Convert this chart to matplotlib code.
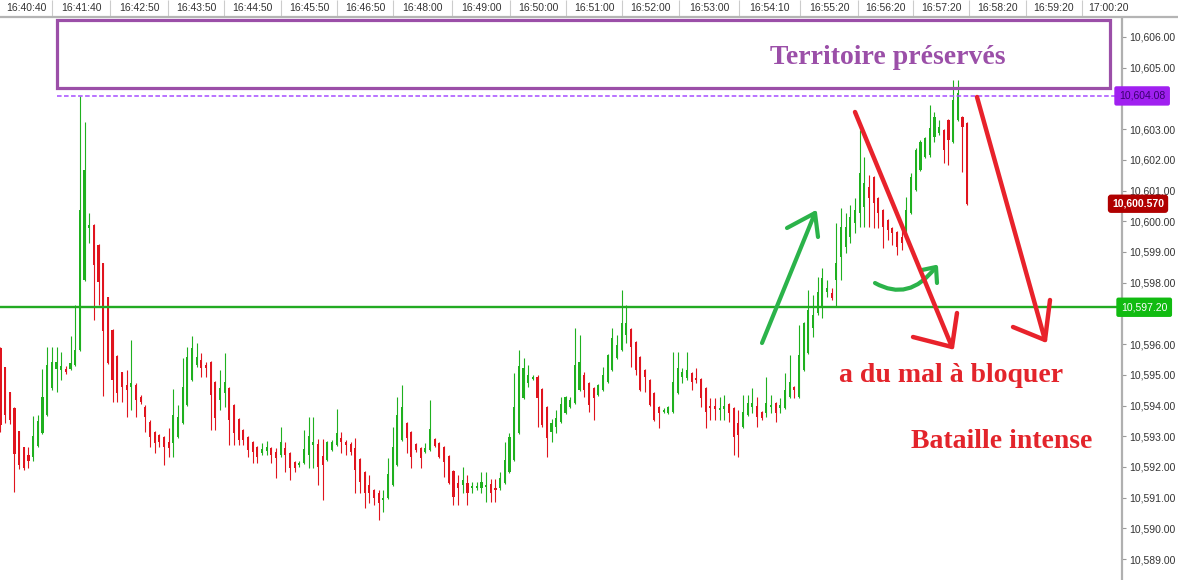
import matplotlib
matplotlib.use("Agg")
import matplotlib.pyplot as plt
from matplotlib.patches import Rectangle, PathPatch
from matplotlib.path import Path
from matplotlib.transforms import blended_transform_factory
import numpy as np

# --- candle data (price) ---
opens = [
    10595.87, 10595.25, 10594.44, 10593.92, 10593.17, 10592.65, 10592.39, 10592.32, 10592.68, 10593.10,
    10593.69, 10594.57, 10595.19, 10595.15, 10595.19, 10595.19, 10595.32, 10595.80, 10598.08, 10599.78,
    10599.88, 10599.23, 10598.64, 10597.53, 10596.46, 10595.61, 10595.09, 10594.67, 10594.60, 10594.67,
    10594.28, 10593.95, 10593.46, 10593.13, 10593.04, 10592.97, 10592.81, 10592.78, 10592.97, 10593.43,
    10594.01, 10594.83,
    10595.32, 10595.48, 10595.32, 10595.41, 10594.76, 10594.18, 10594.41, 10594.57, 10594.01, 10593.56,
    10593.20, 10592.97, 10592.81, 10592.65, 10592.45, 10592.52, 10592.61, 10592.48, 10592.39, 10592.61,
    10592.45, 10592.16, 10592.06, 10592.12, 10592.39, 10592.71, 10592.74, 10592.35, 10592.22, 10592.55,
    10592.71, 10592.94, 10592.81, 10592.74, 10592.61, 10592.25, 10591.83, 10591.41, 10591.24, 10591.15,
    10590.92, 10590.99, 10591.41,
    10592.06, 10592.87, 10593.43, 10593.13, 10592.74, 10592.61, 10592.48, 10592.55, 10592.91, 10592.78,
    10592.65, 10592.35, 10591.86, 10591.47, 10591.41, 10591.47, 10591.31, 10591.31, 10591.31, 10591.34,
    10591.44, 10591.31, 10591.31, 10591.47, 10591.83, 10592.22, 10593.10, 10594.24, 10594.73, 10594.86,
    10594.93, 10594.53, 10593.95, 10593.13, 10593.30, 10593.46, 10593.75, 10593.95, 10594.08, 10594.50,
    10594.99, 10594.73,
    10594.57, 10594.34, 10594.50, 10594.76, 10595.15, 10595.54, 10595.80, 10596.29, 10596.49, 10596.06,
    10595.58, 10595.15, 10594.83, 10594.41, 10593.95, 10593.79, 10593.75, 10593.79, 10594.41, 10594.93,
    10594.89, 10595.06, 10594.89, 10594.86, 10594.57, 10593.98, 10593.98, 10593.85, 10593.89, 10594.05,
    10593.92, 10593.43, 10593.30, 10593.69, 10593.95, 10593.98, 10593.79, 10593.75, 10593.95, 10594.08,
    10593.92,
    10593.92, 10594.28, 10594.60, 10594.28, 10595.15, 10595.71, 10596.52, 10597.01, 10597.20, 10597.69,
    10597.66, 10598.08,
    10598.83, 10599.16, 10599.49, 10599.94, 10600.27, 10600.46, 10601.11, 10601.44, 10600.76, 10600.36,
    10600.04, 10599.78, 10599.65, 10599.49, 10599.62, 10600.27, 10601.02, 10601.67, 10602.09, 10602.16,
    10602.74, 10602.87, 10602.97, 10603.30, 10602.58, 10603.30, 10603.39, 10603.20,
]
highs = [
    10595.90, 10595.25, 10594.44, 10593.95, 10593.17, 10592.65, 10592.65, 10593.66, 10593.69, 10595.19,
    10595.90, 10595.90, 10595.90, 10595.74, 10595.28, 10596.26, 10597.27, 10604.08, 10603.23, 10600.27,
    10599.90, 10599.25, 10598.65, 10597.55, 10596.48, 10595.63, 10595.10, 10595.15, 10596.13, 10594.73,
    10594.34, 10594.01, 10593.52, 10593.17, 10593.07, 10593.01, 10593.27, 10594.53, 10594.01, 10595.54,
    10595.90, 10596.26,
    10596.03, 10595.71, 10595.41, 10595.45, 10594.80, 10595.15, 10595.71, 10594.60, 10594.05, 10593.59,
    10593.23, 10593.01, 10592.84, 10592.68, 10592.78, 10592.84, 10592.65, 10592.61, 10593.30, 10592.81,
    10592.48, 10592.19, 10592.19, 10593.20, 10593.62, 10593.62, 10592.91, 10592.91, 10592.84, 10592.87,
    10593.88, 10593.13, 10592.87, 10592.81, 10592.94, 10592.29, 10591.86, 10591.73, 10591.28, 10591.24,
    10591.24, 10592.29, 10593.30,
    10594.28, 10594.67, 10593.46, 10593.17, 10592.78, 10592.65, 10592.78, 10594.18, 10592.94, 10592.81,
    10592.68, 10592.39, 10591.90, 10591.73, 10592.00, 10591.73, 10591.51, 10591.51, 10591.83, 10591.83,
    10591.60, 10591.60, 10591.83, 10592.81, 10593.10, 10595.06, 10595.80, 10595.54, 10595.32, 10594.99,
    10594.99, 10594.57, 10593.98, 10593.56, 10593.85, 10594.28, 10594.31, 10594.28, 10596.52, 10596.29,
    10595.09, 10594.76,
    10594.60, 10594.70, 10595.25, 10595.67, 10596.52, 10596.29, 10597.76, 10597.27, 10596.52, 10596.10,
    10595.61, 10595.19, 10594.86, 10594.44, 10593.98, 10593.92, 10593.98, 10595.74, 10595.74, 10595.22,
    10595.74, 10595.09, 10595.22, 10594.89, 10594.60, 10594.24, 10594.24, 10594.28, 10594.34, 10594.08,
    10593.95, 10593.85, 10594.34, 10594.34, 10594.57, 10594.28, 10593.82, 10594.93, 10594.34, 10594.11,
    10594.24,
    10595.06, 10595.64, 10594.63, 10596.62, 10596.72, 10597.76, 10597.59, 10598.18, 10598.48, 10598.08,
    10597.82, 10599.94,
    10600.43, 10600.27, 10600.53, 10600.76, 10602.97, 10602.09, 10601.50, 10601.47, 10600.79, 10600.40,
    10600.07, 10599.81, 10599.68, 10599.94, 10600.79, 10601.57, 10602.38, 10602.64, 10602.74, 10603.79,
    10603.56, 10603.30, 10603.00, 10603.33, 10604.60, 10604.60, 10603.42, 10603.23,
]
lows = [
    10593.13, 10593.42, 10593.39, 10591.18, 10591.93, 10591.90, 10591.96, 10592.19, 10592.65, 10593.07,
    10593.66, 10594.50, 10594.44, 10594.83, 10595.02, 10595.15, 10595.28, 10595.77, 10598.05, 10599.29,
    10596.78, 10597.27, 10594.31, 10595.35, 10594.11, 10594.11, 10594.11, 10593.62, 10593.85, 10593.62,
    10594.05, 10593.13, 10592.65, 10592.45, 10592.65, 10592.06, 10592.32, 10592.32, 10592.94, 10593.39,
    10593.98, 10594.80,
    10595.25, 10594.93, 10594.93, 10593.20, 10593.20, 10593.85, 10593.95, 10592.71, 10592.71, 10592.71,
    10592.71, 10592.32, 10592.12, 10592.12, 10592.39, 10592.39, 10592.12, 10591.63, 10592.32, 10591.83,
    10591.57, 10591.83, 10592.00, 10592.09, 10591.96, 10591.96, 10591.41, 10590.92, 10592.19, 10592.52,
    10592.68, 10592.45, 10592.39, 10592.39, 10591.15, 10591.15, 10590.66, 10590.82, 10590.76, 10590.27,
    10590.53, 10590.95, 10591.38,
    10592.03, 10592.84, 10592.45, 10591.96, 10592.48, 10591.96, 10592.45, 10592.52, 10592.65, 10592.29,
    10591.67, 10591.44, 10590.76, 10590.76, 10591.15, 10590.76, 10591.15, 10591.24, 10591.15, 10590.86,
    10590.86, 10590.86, 10591.24, 10591.44, 10591.80, 10592.19, 10593.07, 10594.21, 10594.60, 10594.83,
    10593.30, 10593.30, 10592.32, 10592.81, 10593.10, 10593.43, 10593.72, 10593.92, 10594.05, 10594.47,
    10594.28, 10593.79,
    10593.52, 10594.31, 10594.47, 10594.73, 10595.12, 10595.51, 10595.77, 10596.03, 10595.25, 10594.99,
    10594.47, 10594.44, 10593.98, 10593.49, 10593.27, 10593.75, 10593.72, 10593.75, 10594.37, 10594.73,
    10594.83, 10594.50, 10594.73, 10593.95, 10593.27, 10593.52, 10593.52, 10593.52, 10593.52, 10593.46,
    10592.39, 10592.32, 10593.27, 10593.66, 10593.75, 10593.30, 10593.52, 10593.62, 10593.75, 10593.46,
    10593.75,
    10593.89, 10594.24, 10594.24, 10594.24, 10595.12, 10595.67, 10596.23, 10596.94, 10596.85, 10597.53,
    10597.43, 10597.20,
    10598.08, 10598.96, 10599.29, 10599.62, 10599.81, 10599.81, 10599.81, 10599.78, 10599.78, 10599.13,
    10599.39, 10599.23, 10598.90, 10599.06, 10599.49, 10600.23, 10600.98, 10601.63, 10602.06, 10602.09,
    10602.58, 10602.81, 10601.89, 10601.83, 10602.55, 10603.27, 10601.60, 10600.53,
]
closes = [
    10593.36, 10593.69, 10593.52, 10592.42, 10592.06, 10591.96, 10592.19, 10593.01, 10593.49, 10594.28,
    10595.32, 10595.41, 10595.41, 10595.28, 10595.09, 10595.38, 10595.80, 10600.36, 10601.67, 10599.88,
    10598.57, 10598.02, 10596.42, 10595.38, 10594.83, 10594.41, 10594.60, 10594.50, 10594.73, 10594.18,
    10594.11, 10593.62, 10592.97, 10592.78, 10592.81, 10592.65, 10592.61, 10593.69, 10593.62, 10594.60,
    10595.58, 10595.87,
    10595.58, 10595.22, 10595.22, 10594.34, 10593.59, 10594.57, 10594.76, 10593.52, 10593.10, 10592.87,
    10592.87, 10592.55, 10592.48, 10592.32, 10592.58, 10592.65, 10592.39, 10592.29, 10592.81, 10592.39,
    10591.96, 10591.96, 10592.12, 10592.58, 10593.01, 10592.81, 10592.00, 10592.06, 10592.81, 10592.81,
    10593.10, 10592.81, 10592.71, 10592.48, 10591.90, 10591.51, 10591.15, 10591.15, 10590.99, 10590.82,
    10590.99, 10591.77, 10592.65,
    10593.69, 10593.95, 10592.94, 10592.32, 10592.55, 10592.29, 10592.61, 10593.23, 10592.68, 10592.32,
    10592.16, 10591.47, 10591.02, 10591.31, 10591.57, 10591.15, 10591.38, 10591.38, 10591.51, 10591.41,
    10591.15, 10591.24, 10591.64, 10592.22, 10592.97, 10593.95, 10595.28, 10595.22, 10594.99, 10594.93,
    10594.24, 10593.36, 10592.94, 10593.43, 10593.59, 10594.05, 10594.28, 10594.18, 10595.32, 10595.41,
    10594.50, 10594.01,
    10594.24, 10594.67, 10594.99, 10595.64, 10596.20, 10595.97, 10596.68, 10596.68, 10595.90, 10595.15,
    10594.50, 10594.93, 10594.01, 10593.52, 10593.75, 10593.85, 10593.95, 10594.76, 10595.22, 10595.09,
    10595.15, 10594.76, 10594.83, 10594.24, 10593.79, 10593.92, 10593.89, 10593.92, 10593.98, 10593.75,
    10592.97, 10593.04, 10593.79, 10594.08, 10594.08, 10593.62, 10593.59, 10594.08, 10594.01, 10593.75,
    10594.01,
    10594.50, 10594.76, 10594.50, 10595.64, 10596.68, 10597.11, 10596.94, 10597.69, 10598.15, 10597.82,
    10597.50, 10598.64,
    10599.81, 10599.81, 10600.14, 10600.36, 10601.57, 10601.24, 10600.76, 10600.59, 10600.27, 10599.81,
    10599.71, 10599.62, 10599.16, 10599.29, 10600.36, 10601.44, 10602.32, 10602.58, 10602.71, 10603.04,
    10603.39, 10603.07, 10602.32, 10602.64, 10603.95, 10604.18, 10603.07, 10600.57,
]

time_labels = ["16:40:40", "16:41:40", "16:42:50", "16:43:50", "16:44:50", "16:45:50", "16:46:50",
               "16:48:00", "16:49:00", "16:50:00", "16:51:00", "16:52:00", "16:53:00", "16:54:10",
               "16:55:20", "16:56:20", "16:57:20", "16:58:20", "16:59:20", "17:00:20"]
# 10,604 and 10,597 sit under the price tags, so they are not labelled
price_ticks = [10589, 10590, 10591, 10592, 10593, 10594, 10595, 10596,
               10598, 10599, 10600, 10601, 10602, 10603, 10605, 10606]

support_level = 10597.20
prev_high = 10604.08
last_price = 10600.570

GREEN = "#1fb01f"
RED = "#e0141e"

W, H = 1178, 580
AX_R = 1122          # right edge of the plot area (px)
AX_T = 17            # height of the time strip (px)
DX = 4.67            # px per candle

fig = plt.figure(figsize=(W / 100, H / 100), dpi=100)
plt.rcParams["font.family"] = ["Liberation Sans", "DejaVu Sans"]

# --- main candle axes ---
ax = fig.add_axes([0, 0, AX_R / W, (H - AX_T) / H])
o = np.array(opens)
hi = np.array(highs)
lo = np.array(lows)
c = np.array(closes)
x = np.arange(len(o))
cols = np.where(c >= o, GREEN, RED)

ax.vlines(x, lo, hi, colors=cols, lw=0.8, zorder=3)
ax.bar(x, np.maximum(np.abs(c - o), 0.06), bottom=np.minimum(o, c), width=0.45,
       color=cols, linewidth=0, zorder=3)

ax.set_xlim(-0.1, AX_R / DX - 0.1)
ax.set_ylim(10588.32, 10606.65)

ax.axhline(support_level, color="#22aa22", lw=1.7, zorder=4)
ax.axhline(prev_high, xmin=57 / AX_R, color="#a64dff", lw=1.1, ls=(0, (3, 1.6)), zorder=4)

ax.yaxis.tick_right()
ax.set_yticks(price_ticks)
ax.set_yticklabels([f"{v:,.2f}" for v in price_ticks])
ax.tick_params(axis="y", labelsize=7.5, labelcolor="#333333", color="#999999",
               length=3, width=0.8, pad=2)
ax.set_xticks([])
for side in ["top", "left", "bottom"]:
    ax.spines[side].set_visible(False)
ax.spines["right"].set_color("#b0b0b0")
ax.spines["right"].set_linewidth(1.6)

# price tags on the right axis
tr = blended_transform_factory(ax.transAxes, ax.transData)
ax.text(1119 / AX_R, prev_high, f"{prev_high:,.2f}", transform=tr, ha="left", va="center",
        fontsize=7.5, color="#3a0070", clip_on=False, zorder=6,
        bbox=dict(boxstyle="round,pad=0.45,rounding_size=0.2", fc="#a020f0", ec="none"))
ax.text(1112 / AX_R, last_price, f"{last_price:,.3f}", transform=tr, ha="left", va="center",
        fontsize=7.5, color="white", fontweight="bold", clip_on=False, zorder=6,
        bbox=dict(boxstyle="round,pad=0.4,rounding_size=0.3", fc="#b00000", ec="none"))
ax.text(1121 / AX_R, support_level, f"{support_level:,.2f}", transform=tr, ha="left", va="center",
        fontsize=7.5, color="white", clip_on=False, zorder=6,
        bbox=dict(boxstyle="round,pad=0.45,rounding_size=0.2", fc="#11bb11", ec="none"))

# --- time strip ---
top = fig.add_axes([0, (H - AX_T) / H, 1, AX_T / H])
top.set_xlim(0, W)
top.set_ylim(0, 1)
seps = [52, 110, 168, 224, 281, 337, 393, 452, 510, 566, 622, 679, 739, 800, 858, 913, 969,
        1026, 1082]
top.vlines(seps, 0, 1, colors="#cccccc", lw=0.8)
centers = [(a + b) / 2 for a, b in zip([0] + seps, seps + [1134])]
for cx, lab in zip(centers, time_labels):
    top.text(cx, 0.55, lab, ha="center", va="center", fontsize=7.5, color="#333333")
top.set_xticks([])
top.set_yticks([])
for side in ["top", "left", "right"]:
    top.spines[side].set_visible(False)
top.spines["bottom"].set_color("#b4b4b4")
top.spines["bottom"].set_linewidth(1.6)

# --- hand-drawn annotations (pixel space) ---
ov = fig.add_axes([0, 0, 1, 1])
ov.set_xlim(0, W)
ov.set_ylim(H, 0)
ov.axis("off")

ov.add_patch(Rectangle((57, 20), 1053, 68, fill=False, ec="#9b4fa8", lw=2.3))
serif = ["Liberation Serif", "DejaVu Serif"]
ov.text(888, 58, "Territoire préservés", ha="center", va="center", fontsize=20,
        fontweight="bold", color="#9b4fa8", family=serif)
ov.text(951, 375, "a du mal à bloquer", ha="center", va="center", fontsize=20,
        fontweight="bold", color="#e3242b", family=serif)
ov.text(1002, 442, "Bataille intense", ha="center", va="center", fontsize=20,
        fontweight="bold", color="#e3242b", family=serif)

AG = "#2bb34a"
AR = "#e8222b"
kw = dict(solid_capstyle="round", solid_joinstyle="round")
# green up arrow
ov.plot([762, 815], [343, 213], color=AG, lw=3.0, **kw)
ov.plot([787, 815, 818], [228, 213, 237], color=AG, lw=3.0, **kw)
# green curved arrow
curve = Path([(875, 283), (909, 302), (935, 268)], [Path.MOVETO, Path.CURVE3, Path.CURVE3])
ov.add_patch(PathPatch(curve, fill=False, ec=AG, lw=3.0, capstyle="round"))
ov.plot([922, 936, 937], [270, 267, 283], color=AG, lw=3.0, **kw)
# red arrows
ov.plot([855, 952], [112, 347], color=AR, lw=3.2, **kw)
ov.plot([913, 952, 957], [337, 347, 313], color=AR, lw=3.2, **kw)
ov.plot([977, 1045], [97, 340], color=AR, lw=3.2, **kw)
ov.plot([1013, 1045, 1050], [327, 340, 300], color=AR, lw=3.2, **kw)

fig.savefig("out.png", dpi=100)
